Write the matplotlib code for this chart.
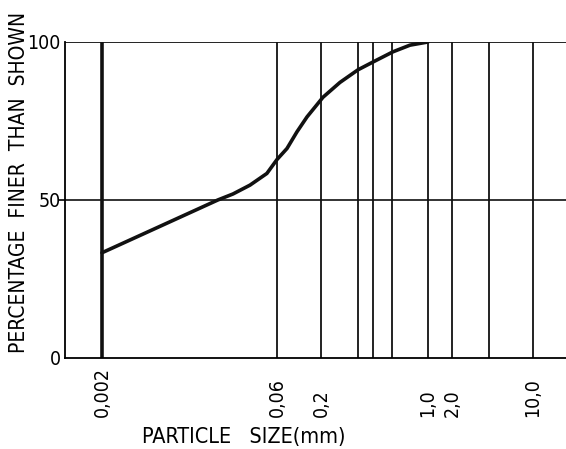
import numpy as np
import matplotlib
matplotlib.use("Agg")
import matplotlib.pyplot as plt
import matplotlib.transforms as mtransforms

# grading curve
size_mm = [0.002, 0.019, 0.0255, 0.0355, 0.0493, 0.06, 0.0789, 0.1038, 0.1365,
           0.1698, 0.206, 0.266, 0.349, 0.451, 0.591, 0.763, 1.0]
pct_finer = [33.3, 50, 51.9, 54.7, 58.4, 62.8, 66.3, 71.6, 76.3,
             79.4, 82.5, 87.2, 91.2, 94, 96.9, 99, 100]

# vertical grid lines of the chart and the labelled ones
grid_sizes = [0.002, 0.06, 0.2, 0.35, 0.44, 0.58, 1.0, 2.0, 4.2, 10.0]
label_sizes = [0.002, 0.06, 0.2, 1.0, 2.0, 10.0]
label_text = ["0,002", "0,06", "0,2", "1,0", "2,0", "10,0"]
y_ticks = [0, 50, 100]
y_tick_text = ["0", "50", "100"]

# the hand-drawn axis is only roughly logarithmic: piecewise log scale
_log_anchor = [-4.0, np.log10(0.002), np.log10(0.06), np.log10(0.2), 0.0,
               np.log10(2.0), 1.0, 2.0]
_pos_anchor = [-52.2, 102, 277, 321, 428, 452, 533, 648.9]


def fwd(x):
    x = np.clip(np.asarray(x, dtype=float), 1e-6, None)
    return np.interp(np.log10(x), _log_anchor, _pos_anchor)


def inv(p):
    return 10 ** np.interp(np.asarray(p, dtype=float), _pos_anchor, _log_anchor)


plt.rcParams["font.family"] = ["DejaVu Sans"]
plt.rcParams["font.stretch"] = "condensed"

fig = plt.figure(figsize=(5.66, 4.49), dpi=100)
ax = fig.add_axes([0.1148, 0.2027, 0.8852, 0.7038])
ax.set_xscale("function", functions=(fwd, inv))
ax.set_xlim(float(inv(65)), float(inv(566)))
ax.set_ylim(0, 100)

for s in grid_sizes:
    lw = 2.6 if s == 0.002 else 1.3
    ax.plot([s, s], [0, 100], color="#111111", lw=lw, solid_capstyle="butt")
ax.axhline(50, color="#111111", lw=1.2)
ax.axhline(100, color="#111111", lw=1.3)

ax.plot(size_mm, pct_finer, color="#111111", lw=2.6, solid_capstyle="round",
        solid_joinstyle="round")

for side in ["top", "right"]:
    ax.spines[side].set_visible(False)
ax.spines["left"].set_linewidth(1.3)
ax.spines["bottom"].set_linewidth(1.3)

ax.set_xticks([])
ax.set_yticks(y_ticks)
ax.set_yticklabels(y_tick_text, fontsize=14)
ax.tick_params(axis="y", length=0, width=1.2, pad=3)
# only the 50 line sticks out past the axis
mid = ax.yaxis.get_major_ticks()[1]
mid.tick1line.set_markersize(5)

trans = mtransforms.blended_transform_factory(ax.transData, ax.transAxes)
for s, t in zip(label_sizes, label_text):
    ax.text(s, -0.187, t, transform=trans, rotation=90, ha="center", va="bottom",
            fontsize=14)

ax.set_ylabel("PERCENTAGE  FINER  THAN  SHOWN", fontsize=15)
ax.yaxis.set_label_coords(-0.072, 0.555)
fig.text(0.43, 0.027, "PARTICLE   SIZE(mm)", ha="center", va="center", fontsize=15.5)

fig.savefig("out.png", dpi=100)
